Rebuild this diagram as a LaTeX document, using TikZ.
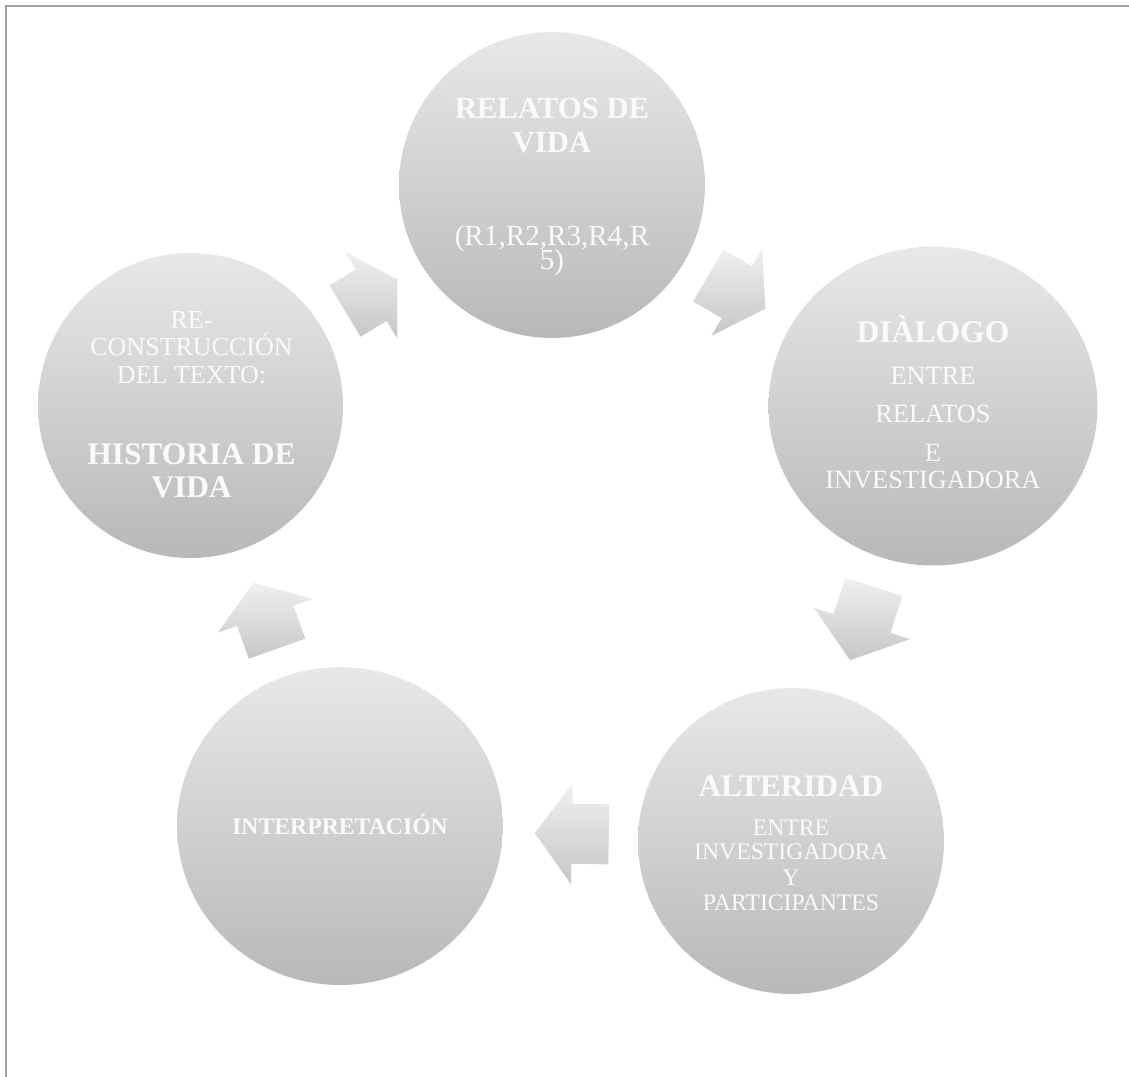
\documentclass[tikz,border=0pt]{standalone}
\usepackage{fontspec}
\setmainfont{Liberation Serif}
\usetikzlibrary{calc,shapes.geometric}

\definecolor{discTop}{HTML}{E8E8E8}
\definecolor{discBot}{HTML}{B8B8B8}
\definecolor{arrTop}{HTML}{F0F0F0}
\definecolor{arrBot}{HTML}{C6C6C6}
\definecolor{frameGray}{HTML}{A0A0A0}
\definecolor{txtWhite}{HTML}{FAFAFA}

% font size helper: size in pt
\newcommand{\setfs}[1]{\fontsize{#1}{#1}\selectfont}

% chunky block arrow: name, centre, direction angle, half length
\newcommand{\blockarrow}[4]{%
  \begin{scope}[shift={#2}, rotate=#3]
    \coordinate (#1-t1)  at (-#4,-30);
    \coordinate (#1-b1)  at (0,-30);
    \coordinate (#1-h1)  at (0,-50.5);
    \coordinate (#1-tip) at (#4,0);
    \coordinate (#1-h2)  at (0,50.5);
    \coordinate (#1-b2)  at (0,30);
    \coordinate (#1-t2)  at (-#4,30);
  \end{scope}
  \shade[chunk] (#1-t1) -- (#1-b1) -- (#1-h1) -- (#1-tip) -- (#1-h2)
                -- (#1-b2) -- (#1-t2) -- cycle;
}

\tikzset{
  disc/.style={ellipse, inner sep=0pt, draw=none,
               top color=discTop, bottom color=discBot},
  lbl/.style={anchor=base, inner sep=0pt, text=txtWhite},
  chunk/.style={draw=none, top color=arrTop, bottom color=arrBot},
  frameline/.style={draw=frameGray, line width=1.2pt}
}

\begin{document}
\begin{tikzpicture}[x=0.02cm, y=-0.02cm]
  \useasboundingbox (0,0) rectangle (1129,1077);

  % page frame (top and left edges)
  \draw[frameline] (6,1077) -- (6,6) -- (1129,6);

  % the five stages
  \node[disc, minimum width=6.12cm, minimum height=6.12cm] (c1) at (552,185) {};
  \node[disc, minimum width=6.58cm, minimum height=6.38cm] (c2) at (933,406) {};
  \node[disc, minimum width=6.12cm, minimum height=6.12cm] (c3) at (791,841) {};
  \node[disc, minimum width=6.52cm, minimum height=6.36cm] (c5) at (340,826) {};
  \node[disc, minimum width=6.10cm, minimum height=6.10cm] (c4) at (190.5,405.5) {};

  % cycle arrows between consecutive stages
  \blockarrow{a12}{($(c1)!0.485!(c2)$)}{-30.2}{33}
  \blockarrow{a23}{($(c2)!0.5!(c3)$)}{-108.1}{38.6}
  \blockarrow{a35}{($(c3)!0.486!(c5)$)}{179}{37}
  \blockarrow{a54}{($(c5)!0.5!(c4)$)}{109.6}{35}
  \blockarrow{a41}{($(c4)!0.5!(c1)$)}{31}{30.6}

  % stage 1
  \node[lbl, font=\bfseries\setfs{17.5}] (c1a) at ($(c1)+(0,-66)$) {RELATOS DE};
  \node[lbl, font=\bfseries\setfs{17.5}] (c1b) at ($(c1)+(0,-32)$) {VIDA};
  \node[lbl, font=\setfs{16.6}] (c1c) at ($(c1)+(0,61)$) {(R1,R2,R3,R4,R};
  \node[lbl, font=\setfs{16.6}] (c1d) at ($(c1)+(0,85)$) {5)};

  % stage 2
  \node[lbl, font=\bfseries\setfs{18}] (c2a) at ($(c2)+(0,-63.3)$) {DIÀLOGO};
  \node[lbl, font=\setfs{15}] (c2b) at ($(c2)+(0,-21)$) {ENTRE};
  \node[lbl, font=\setfs{15}] (c2c) at ($(c2)+(0,16.7)$) {RELATOS};
  \node[lbl, font=\setfs{15}] (c2d) at ($(c2)+(0,55.7)$) {E};
  \node[lbl, font=\setfs{15}] (c2e) at ($(c2)+(0,82.3)$) {INVESTIGADORA};

  % stage 3
  \node[lbl, font=\bfseries\setfs{17.8}] (c3a) at ($(c3)+(0,-45)$) {ALTERIDAD};
  \node[lbl, font=\setfs{13.5}] (c3b) at ($(c3)+(0,-6)$) {ENTRE};
  \node[lbl, font=\setfs{13.5}] (c3c) at ($(c3)+(0,18.3)$) {INVESTIGADORA};
  \node[lbl, font=\setfs{13.5}] (c3d) at ($(c3)+(0,44)$) {Y};
  \node[lbl, font=\setfs{13.5}] (c3e) at ($(c3)+(0,69)$) {PARTICIPANTES};

  % stage 4
  \node[lbl, font=\bfseries\setfs{13.5}] (c5a) at ($(c5)+(0,8)$) {INTERPRETACIÓN};

  % stage 5
  \node[lbl, font=\setfs{14.8}] (c4a) at ($(c4)+(1,-77.2)$) {RE-};
  \node[lbl, font=\setfs{14.8}] (c4b) at ($(c4)+(1,-49.5)$) {CONSTRUCCIÓN};
  \node[lbl, font=\setfs{14.8}] (c4c) at ($(c4)+(1,-21.5)$) {DEL TEXTO:};
  \node[lbl, font=\bfseries\setfs{17.9}] (c4d) at ($(c4)+(1,59.5)$) {HISTORIA DE};
  \node[lbl, font=\bfseries\setfs{17.9}] (c4e) at ($(c4)+(1,91.8)$) {VIDA};
\end{tikzpicture}
\end{document}
